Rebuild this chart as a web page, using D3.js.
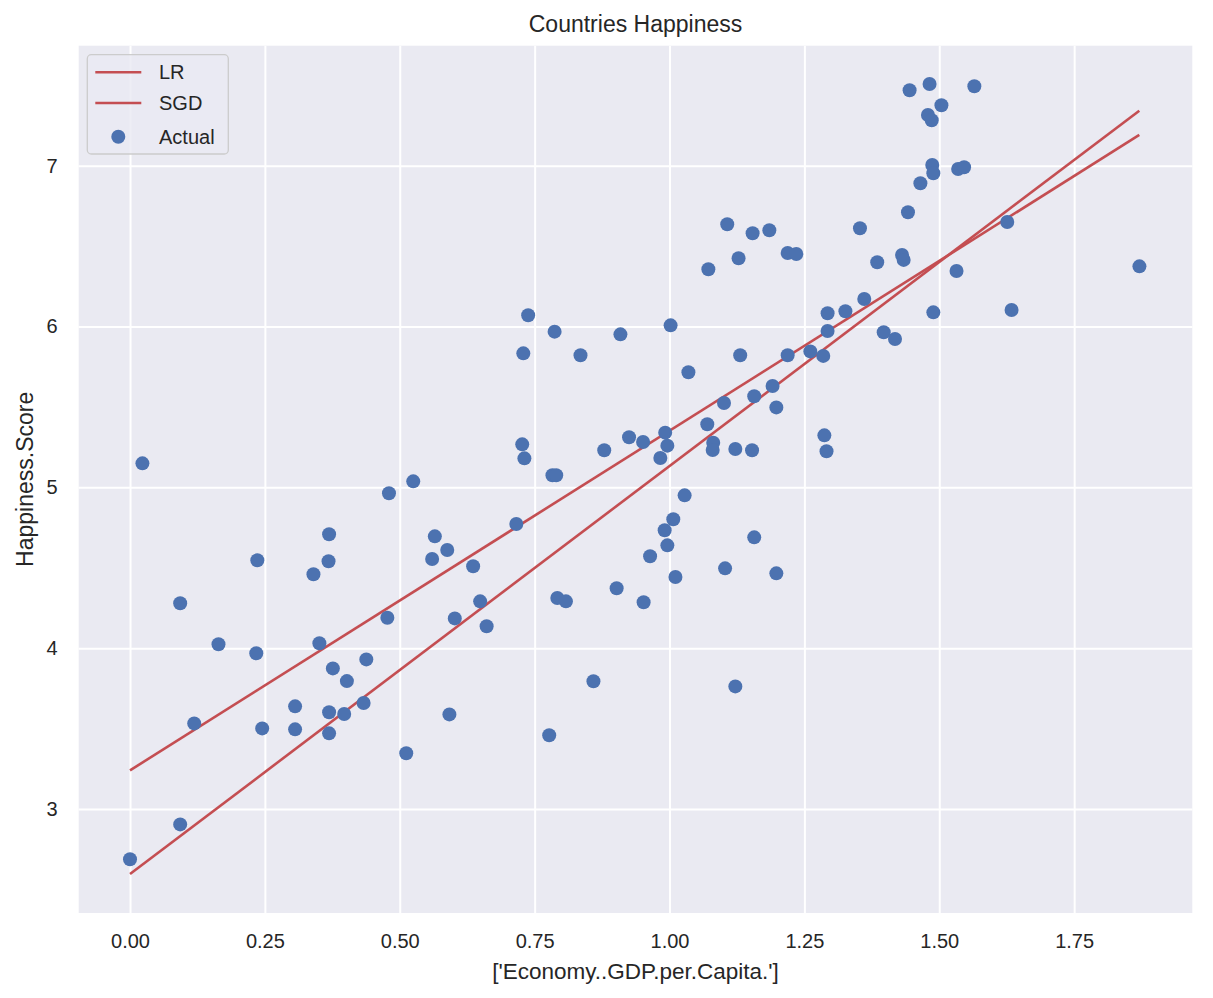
<!DOCTYPE html>
<html>
<head>
<meta charset="utf-8">
<script src="https://cdn.jsdelivr.net/npm/d3@7"></script>
<style>
  html, body { margin: 0; padding: 0; background: #ffffff; }
  svg { display: block; font-family: "Liberation Sans", Arial, sans-serif; }
</style>
</head>
<body>
<svg id="chart" width="1213" height="998"></svg>
<script>
// ---- data ----
const gdp = [
  0.738, 0.787, 0.909, 1.002, 1.072, 1.107, 1.128, 1.154, 1.185, 1.219,
  1.235, 1.445, 1.482, 1.565, 1.504, 1.479, 1.486, 1.487, 1.489, 1.535,
  1.546, 1.465, 1.442, 1.353, 1.385, 1.431, 1.434, 1.626, 1.871, 1.532,
  1.361, 1.293, 1.326, 1.293, 1.397, 1.418, 1.489, 1.634, 0.023, 0.093,
  0.236, 0.340, 0.368, 0.369, 0.480, 0.525, 0.565, 0.560, 0.588, 0.477,
  0.602, 0.729, 0.835, 1.035, 1.131, 1.219, 1.261, 1.285, 1.101, 1.157,
  1.191, 1.198, 1.287, 1.291, 1.070, 0.992, 0.996, 0.925, 0.951, 0.983,
  0.879, 0.727, 0.731, 0.783, 0.790, 1.081, 1.080, 1.122, 1.153, 1.028,
  1.007, 0.991, 0.996, 1.157, 0.964, 0.716, 0.636, 1.103, 1.198, 1.011,
  0.902, 0.792, 0.808, 0.952, 0.649, 0.661, 0.164, 0.234, 0.351, 0.376,
  0.402, 0.438, 0.433, 0.306, 0.369, 0.397, 0.369, 0.306, 0.245, 0.119,
  0.592, 0.512, 0.859, 0.777, 1.122, 0.093, 0.000
];
const happiness = [
  6.070, 5.968, 5.951, 6.007, 6.356, 6.636, 6.424, 6.580, 6.598, 6.457,
  6.451, 7.469, 7.508, 7.494, 7.376, 7.315, 7.282, 7.004, 6.953, 6.979,
  6.990, 6.891, 6.710, 6.611, 6.399, 6.445, 6.414, 6.650, 6.374, 6.345,
  6.171, 6.082, 6.095, 5.972, 5.964, 5.922, 6.088, 6.103, 5.149, 4.279,
  4.546, 4.459, 4.540, 4.708, 4.963, 5.037, 4.695, 4.554, 4.610, 4.189,
  4.185, 5.833, 5.821, 5.715, 5.821, 5.821, 5.845, 5.817, 5.524, 5.566,
  5.630, 5.497, 5.323, 5.224, 5.392, 5.340, 5.259, 5.311, 5.282, 5.182,
  5.230, 5.267, 5.180, 5.075, 5.075, 5.277, 5.232, 5.238, 5.230, 4.950,
  4.801, 4.733, 4.639, 4.689, 4.571, 4.772, 4.509, 4.496, 4.465, 4.442,
  4.372, 4.312, 4.291, 4.285, 4.291, 4.136, 4.024, 3.968, 4.030, 3.874,
  3.795, 3.930, 3.659, 3.638, 3.601, 3.590, 3.470, 3.495, 3.501, 3.532,
  3.588, 3.346, 3.794, 3.458, 3.762, 2.904, 2.687
];
// fitted lines (endpoints at min / max GDP)
const lineX = [0.0, 1.8708];
const lrPred = [3.240, 7.191];
const sgdPred = [2.595, 7.342];

const xTicks = [0, 0.25, 0.5, 0.75, 1.0, 1.25, 1.5, 1.75];
const yTicks = [3, 4, 5, 6, 7];
const xDomain = [-0.0951, 1.969];
const yDomain = [2.353, 7.746];

const titleText = "Countries Happiness";
const xLabel = "['Economy..GDP.per.Capita.']";
const yLabel = "Happiness.Score";
const legendLabels = ["LR", "SGD", "Actual"];

// ---- layout ----
const svg = d3.select("#chart");
const plot = { left: 78.7, top: 45.7, right: 1192.3, bottom: 913 };
const textColor = "#262626";
const bg = "#EAEAF2";
const blue = "#4C72B0";
const red = "#C44E52";

const x = d3.scaleLinear().domain(xDomain).range([plot.left, plot.right]);
const y = d3.scaleLinear().domain(yDomain).range([plot.bottom, plot.top]);

// background
svg.append("rect")
  .attr("x", plot.left).attr("y", plot.top)
  .attr("width", plot.right - plot.left).attr("height", plot.bottom - plot.top)
  .attr("fill", bg);

// gridlines
const gx = svg.append("g")
  .attr("transform", `translate(0,${plot.bottom})`)
  .call(d3.axisBottom(x).tickValues(xTicks).tickSize(-(plot.bottom - plot.top)).tickFormat(""));
gx.select(".domain").remove();
gx.selectAll("line").attr("stroke", "#ffffff").attr("stroke-width", 2);

const gy = svg.append("g")
  .attr("transform", `translate(${plot.left},0)`)
  .call(d3.axisLeft(y).tickValues(yTicks).tickSize(-(plot.right - plot.left)).tickFormat(""));
gy.select(".domain").remove();
gy.selectAll("line").attr("stroke", "#ffffff").attr("stroke-width", 2);

// tick labels via axes
const ax = svg.append("g")
  .attr("transform", `translate(0,${plot.bottom})`)
  .call(d3.axisBottom(x).tickValues(xTicks).tickSize(0).tickPadding(21).tickFormat(d3.format(".2f")));
ax.select(".domain").remove();
ax.selectAll("text").attr("fill", textColor).attr("font-size", 20)
  .attr("font-family", "'Liberation Sans', Arial, sans-serif");

const ay = svg.append("g")
  .attr("transform", `translate(${plot.left},0)`)
  .call(d3.axisLeft(y).tickValues(yTicks).tickSize(0).tickPadding(21).tickFormat(d3.format("d")));
ay.select(".domain").remove();
ay.selectAll("text").attr("fill", textColor).attr("font-size", 20)
  .attr("font-family", "'Liberation Sans', Arial, sans-serif");

// clip for marks
svg.append("clipPath").attr("id", "clip").append("rect")
  .attr("x", plot.left).attr("y", plot.top)
  .attr("width", plot.right - plot.left).attr("height", plot.bottom - plot.top);

const marks = svg.append("g").attr("clip-path", "url(#clip)");

// lines
const lineGen = d3.line().x(d => x(d[0])).y(d => y(d[1]));
const lrData = lineX.map((v, i) => [v, lrPred[i]]);
const sgdData = lineX.map((v, i) => [v, sgdPred[i]]);
marks.append("path").datum(lrData).attr("d", lineGen)
  .attr("fill", "none").attr("stroke", red).attr("stroke-width", 2.6);
marks.append("path").datum(sgdData).attr("d", lineGen)
  .attr("fill", "none").attr("stroke", red).attr("stroke-width", 2.6);

// scatter
const pts = gdp.map((g, i) => [g, happiness[i]]);
marks.selectAll("circle.pt").data(pts).enter().append("circle")
  .attr("class", "pt")
  .attr("cx", d => x(d[0])).attr("cy", d => y(d[1]))
  .attr("r", 7).attr("fill", blue);

// title & labels
svg.append("text").attr("x", (plot.left + plot.right) / 2).attr("y", 32)
  .attr("text-anchor", "middle").attr("fill", textColor).attr("font-size", 23)
  .text(titleText);
svg.append("text").attr("x", (plot.left + plot.right) / 2).attr("y", 979)
  .attr("text-anchor", "middle").attr("fill", textColor).attr("font-size", 22.5)
  .text(xLabel);
svg.append("text")
  .attr("transform", `translate(33,${(plot.top + plot.bottom) / 2}) rotate(-90)`)
  .attr("text-anchor", "middle").attr("fill", textColor).attr("font-size", 23)
  .text(yLabel);

// legend
const lg = svg.append("g");
lg.append("rect").attr("x", 87.3).attr("y", 54.7).attr("width", 141).attr("height", 99.3)
  .attr("rx", 4).attr("fill", bg).attr("fill-opacity", 0.8)
  .attr("stroke", "#cccccc").attr("stroke-width", 1.3);
const rowY = [72.3, 103, 136.7];
legendLabels.forEach((lab, i) => {
  if (i < 2) {
    lg.append("line").attr("x1", 95.3).attr("x2", 141.3).attr("y1", rowY[i]).attr("y2", rowY[i])
      .attr("stroke", red).attr("stroke-width", 2.6);
  } else {
    lg.append("circle").attr("cx", 118.3).attr("cy", rowY[i]).attr("r", 7).attr("fill", blue);
  }
  lg.append("text").attr("x", 159).attr("y", rowY[i]).attr("dy", "0.35em")
    .attr("fill", textColor).attr("font-size", 20).text(lab);
});
</script>
</body>
</html>
